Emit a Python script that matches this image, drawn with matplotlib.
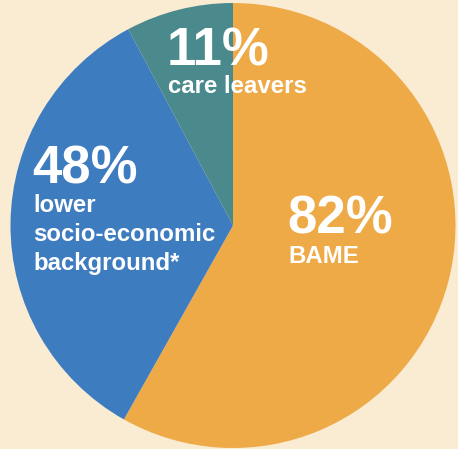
import matplotlib.pyplot as plt

labels = ['BAME', 'lower\nsocio-economic\nbackground*', 'care leavers']
values = [82, 48, 11]
colors = ['#EEAA47', '#3E7CC0', '#4A8A8C']
bg = '#FAEBD3'

W, H = 458, 449
fig = plt.figure(figsize=(W / 100, H / 100), dpi=100, facecolor=bg)
ax = fig.add_axes([0, 0, 1, 1])
ax.set_facecolor(bg)
ax.pie(values, colors=colors, startangle=90, counterclock=False,
       center=(233, H - 225.5), radius=222.5, frame=True,
       wedgeprops=dict(linewidth=0))
ax.set_xlim(0, W)
ax.set_ylim(0, H)
ax.set_aspect('equal')
ax.axis('off')

font = 'Liberation Sans'
# (x, baseline of percent, baseline of first label line) in pixels from top
pos = [(287, 233, 263), (32, 184, 212), (167, 65, 93)]
for v, lab, (x, yp, yl) in zip(values, labels, pos):
    ax.text(x, H - yp, f'{v}%', color='white', fontsize=38, fontweight='bold',
            family=font, ha='left', va='baseline')
    for i, line in enumerate(lab.split('\n')):
        ax.text(x + 1, H - yl - i * 29, line, color='white', fontsize=17.3,
                fontweight='bold', family=font, ha='left', va='baseline')

fig.savefig('out.png', dpi=100, facecolor=bg)
